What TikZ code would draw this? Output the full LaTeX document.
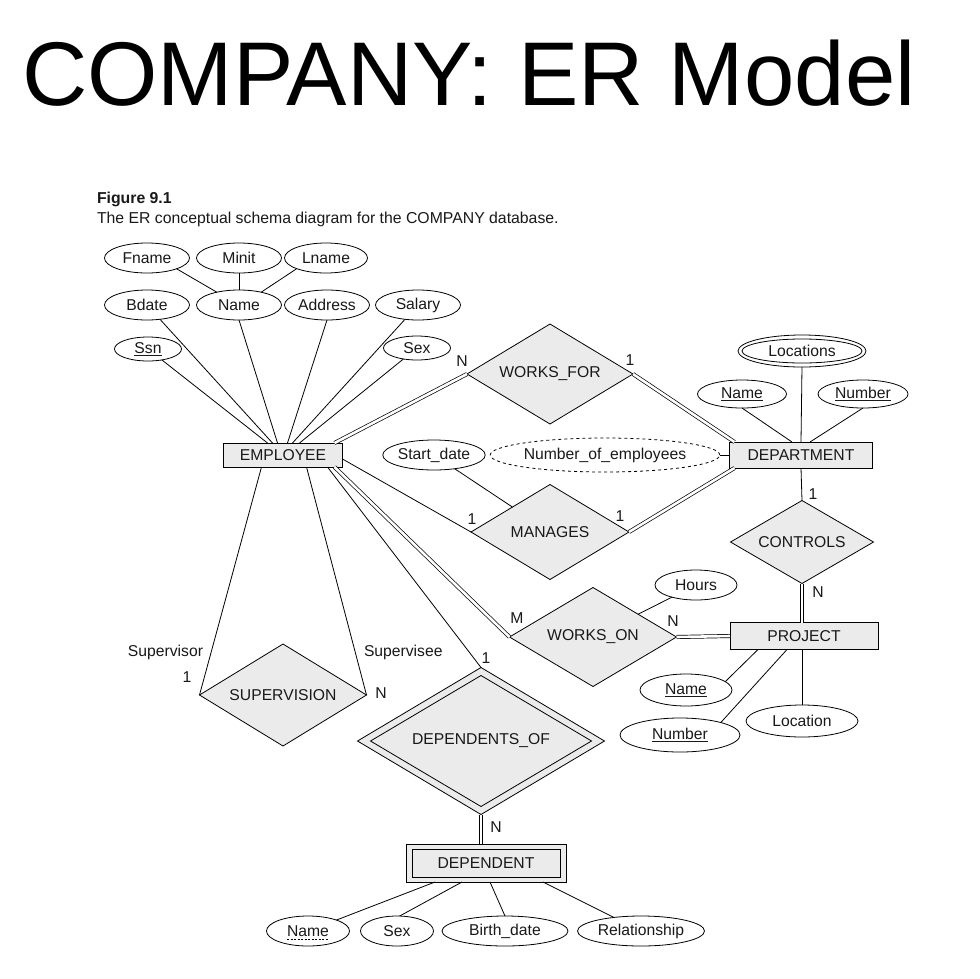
\documentclass[tikz,border=0pt]{standalone}
\usepackage{fontspec}
\setmainfont{Liberation Sans}
\usetikzlibrary{shapes.geometric,calc}
\begin{document}
\begin{tikzpicture}[x=1pt,y=-1pt,
  every node/.style={inner sep=0pt, outer sep=0pt, font=\fontsize{15.7}{18}\selectfont, text=black!90},
  attrbox/.style={ellipse, draw, fill=white, line width=0.8pt},
  entbox/.style={rectangle, draw, fill=gray!16, line width=0.8pt},
  relbox/.style={diamond, aspect=2.5, draw, fill=gray!16, line width=0.8pt},
  lnk/.style={line width=0.8pt},
  dbl/.style={double, double distance=2.6pt, line width=0.7pt},
  cardlab/.style={font=\fontsize{15.7}{18}\selectfont}
]
\fill[white] (0,0) rectangle (980,978);
\useasboundingbox (0,0) rectangle (980,978);

% title and caption
\node[anchor=base west, font=\fontsize{90.5}{100}\selectfont, text=black] (title) at (22,105) {COMPANY: ER Model};
\node[anchor=base west, font=\fontsize{15.8}{18}\selectfont\bfseries] (fig) at (97,203) {Figure 9.1};
\node[anchor=base west, font=\fontsize{15.8}{18}\selectfont] (cap) at (97,223) {The ER conceptual schema diagram for the COMPANY database.};

% EMPLOYEE attributes
\node[attrbox, minimum width=85, minimum height=30] (fname) at (147,258) {Fname};
\node[attrbox, minimum width=85, minimum height=30] (minit) at (239,258) {Minit};
\node[attrbox, minimum width=83, minimum height=30] (lname) at (326,258) {Lname};
\node[attrbox, minimum width=85, minimum height=30] (bdate) at (147,305) {Bdate};
\node[attrbox, minimum width=85, minimum height=30] (ename) at (239,305) {Name};
\node[attrbox, minimum width=85, minimum height=30] (addr) at (327,305) {Address};
\node[attrbox, minimum width=85, minimum height=30] (salary) at (418,305) {Salary};
\node[attrbox, minimum width=67, minimum height=24] (ssn) at (148,349) {\underline{Ssn}};
\node[attrbox, minimum width=67, minimum height=24] (esex) at (417,348) {Sex};

% entities
\node[entbox, minimum width=119, minimum height=24] (emp) at (283,455) {EMPLOYEE};
\node[entbox, minimum width=143, minimum height=26] (dept) at (801,455) {DEPARTMENT};
\node[entbox, minimum width=148, minimum height=27] (proj) at (804,636) {PROJECT};
\node[entbox, minimum width=160, minimum height=38] (depout) at (486,863) {};
\node[entbox, minimum width=148, minimum height=28] (dep) at (486,863) {DEPENDENT};

% relationships
\node[relbox, minimum width=166, minimum height=100] (wf) at (550,374) {WORKS\_FOR};
\node[relbox, minimum width=158, minimum height=95] (man) at (550,532) {MANAGES};
\node[relbox, minimum width=143, minimum height=83] (ctrl) at (802,542) {CONTROLS};
\node[relbox, minimum width=167, minimum height=99] (won) at (593,637) {WORKS\_ON};
\node[relbox, minimum width=167, minimum height=102] (sup) at (283,695) {SUPERVISION};
\node[relbox, minimum width=247, minimum height=147] (dofout) at (481,741) {};
\node[relbox, minimum width=221, minimum height=131] (dof) at (481,741) {DEPENDENTS\_OF};

% DEPARTMENT attributes
\node[attrbox, minimum width=128, minimum height=32] (locout) at (802,351) {};
\node[attrbox, minimum width=120, minimum height=24] (loc) at (802,351) {Locations};
\node[attrbox, minimum width=89, minimum height=28] (dname) at (742,394) {\underline{Name}};
\node[attrbox, minimum width=90, minimum height=28] (dnum) at (863,394) {\underline{Number}};
\node[attrbox, dashed, minimum width=194, minimum height=34] (noe) at (605,455) {Number\_of\_employees};
\node[attrbox, minimum width=92, minimum height=30] (sdate) at (434,455) {Start\_date};

% PROJECT / WORKS_ON attributes
\node[attrbox, minimum width=82, minimum height=30] (hours) at (696,585) {Hours};
\node[attrbox, minimum width=92, minimum height=32] (pname) at (686,690) {\underline{Name}};
\node[attrbox, minimum width=120, minimum height=34] (pnum) at (680,735) {\underline{Number}};
\node[attrbox, minimum width=112, minimum height=32] (ploc) at (802,721) {Location};

% DEPENDENT attributes
\node[attrbox, minimum width=83, minimum height=30] (depname) at (308,931) {Name};
\draw[line width=0.6pt, dash pattern=on 2pt off 1.5pt] ($(depname.center)+(-21,8)$) -- ($(depname.center)+(21,8)$);
\node[attrbox, minimum width=73, minimum height=30] (depsex) at (397,931) {Sex};
\node[attrbox, minimum width=126, minimum height=30] (bdate2) at (505,931) {Birth\_date};
\node[attrbox, minimum width=127, minimum height=30] (relship) at (641,931) {Relationship};

% connectors: composite Name
\draw[lnk] (fname.-20) -- (ename.150);
\draw[lnk] (minit.south) -- (ename.north);
\draw[lnk] (lname.200) -- (ename.30);

% EMPLOYEE attributes
\draw[lnk] (ssn) -- ($(emp.north west)+(44,0)$);
\draw[lnk] (bdate) -- ($(emp.north west)+(49,0)$);
\draw[lnk] (ename.south) -- ($(emp.north west)+(54,0)$);
\draw[lnk] (addr.south) -- ($(emp.north west)+(64,0)$);
\draw[lnk] (salary) -- ($(emp.north west)+(69,0)$);
\draw[lnk] (esex) -- ($(emp.north west)+(76,0)$);

% WORKS_FOR
\draw[dbl] ($(emp.north west)+(111,0)$) -- (wf.west);
\draw[dbl] (wf.east) -- ($(dept.north west)+(5,0)$);
\node[cardlab] (nwf) at (462,361) {N};
\node[cardlab] (owf) at (630,360) {1};

% DEPARTMENT attributes
\draw[lnk] (locout.south) -- (dept.north);
\draw[lnk] (dname.south) -- ($(dept.north)+(-9,0)$);
\draw[lnk] (dnum.south) -- ($(dept.north)+(9,0)$);
\draw[lnk] (noe.east) -- (dept.west);

% MANAGES
\draw[lnk] ($(emp.east)+(0,4)$) -- (man.west);
\draw[dbl] (man.east) -- ($(dept.south west)+(5,0)$);
\draw[lnk] (sdate) -- (man);
\node[cardlab] (oman1) at (472,519) {1};
\node[cardlab] (oman2) at (620,516) {1};

% CONTROLS
\draw[lnk] (dept.south) -- (ctrl.north);
\draw[dbl] (ctrl.south) -- (ctrl.south |- proj.north);
\node[cardlab] (octrl) at (813,494) {1};
\node[cardlab] (nctrl) at (818,592) {N};

% WORKS_ON
\draw[dbl] ($(emp.south east)+(-8,0)$) -- (won.west);
\draw[dbl] (won.east) -- (proj.west);
\draw[lnk] (hours) -- (won);
\node[cardlab] (mwon) at (517,618) {M};
\node[cardlab] (nwon) at (673,621) {N};

% PROJECT attributes
\draw[lnk] (pname.12) -- ($(proj.south west)+(28,0)$);
\draw[lnk] (pnum.17) -- ($(proj.south west)+(57,0)$);
\draw[lnk] (ploc.north) -- (ploc.north |- proj.south);

% SUPERVISION
\draw[lnk] ($(emp.south west)+(38,0)$) -- (sup.west);
\draw[lnk] ($(emp.south west)+(83,0)$) -- (sup.east);
\node[cardlab, anchor=east] (supvr) at (203,652) {Supervisor};
\node[cardlab] (osup) at (187,677) {1};
\node[cardlab, anchor=west] (supve) at (364,652) {Supervisee};
\node[cardlab] (nsup) at (381,693) {N};

% DEPENDENTS_OF
\draw[lnk] ($(emp.south east)+(-15,0)$) -- (dofout.north);
\draw[dbl] (dofout.south) -- (dofout.south |- depout.north);
\node[cardlab] (odof) at (486,658) {1};
\node[cardlab] (ndof) at (496,827) {N};

% DEPENDENT attributes
\draw[lnk] (depname) -- ($(depout.south west)+(29,0)$);
\draw[lnk] (depsex.80) -- ($(depout.south west)+(56,0)$);
\draw[lnk] (bdate2.north) -- ($(depout.south west)+(84,0)$);
\draw[lnk] (relship) -- ($(depout.south west)+(137,0)$);
\end{tikzpicture}
\end{document}
